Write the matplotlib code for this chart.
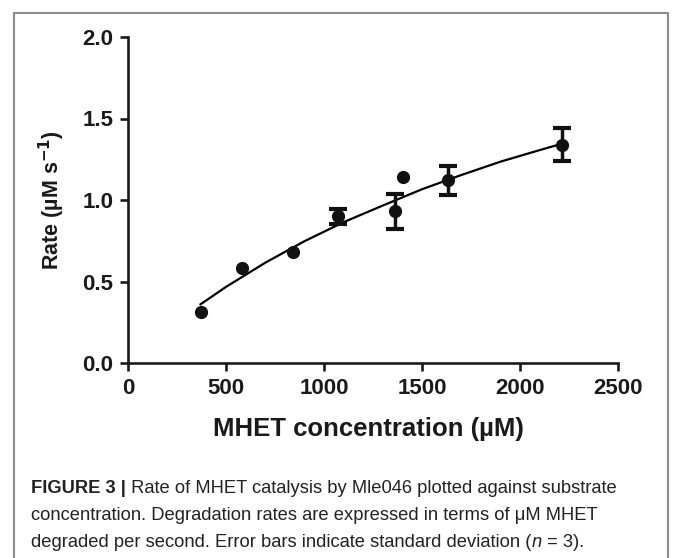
import matplotlib
matplotlib.use("Agg")
import matplotlib.pyplot as plt
import numpy as np
from matplotlib.lines import Line2D

conc = [371, 580, 843, 1073, 1362, 1401, 1631, 2213]
rate = [0.31, 0.58, 0.68, 0.90, 0.93, 1.14, 1.12, 1.34]
sd = [0, 0, 0, 0.045, 0.107, 0, 0.087, 0.10]

# fitted curve, points
fit_x = [370, 500, 700, 900, 1100, 1300, 1500, 1700, 1900, 2100, 2213]
fit_y = [0.36, 0.467, 0.615, 0.747, 0.864, 0.966, 1.066, 1.153, 1.235, 1.306, 1.345]

xticks = [0, 500, 1000, 1500, 2000, 2500]
yticks = [0.0, 0.5, 1.0, 1.5, 2.0]

plt.rcParams['font.family'] = ['Liberation Sans', 'DejaVu Sans']
cap_font = ['Liberation Sans', 'DejaVu Sans']

fig = plt.figure(figsize=(6.74, 5.58), dpi=100)
ax = fig.add_axes([128/674, 1-363/558, 490/674, 326/558])

ax.plot(fit_x, fit_y, 'k-', lw=1.6)

conc = np.array(conc)
rate = np.array(rate)
sd = np.array(sd)
has_err = sd > 0
ax.errorbar(conc[has_err], rate[has_err], yerr=sd[has_err], fmt='none',
            ecolor='#111111', elinewidth=2.5, capsize=6.5, capthick=3)
ax.plot(conc, rate, 'o', color='#111111', ms=8.5)

ax.set_xlim(0, 2500)
ax.set_ylim(0, 2.0)
ax.set_xticks(xticks)
ax.set_yticks(yticks)
ax.set_xticklabels([str(t) for t in xticks])
ax.set_yticklabels(['%.1f' % t for t in yticks])
for lab in ax.get_xticklabels() + ax.get_yticklabels():
    lab.set_fontweight('bold')
    lab.set_fontsize(16)
    lab.set_color('#1a1a1a')

ax.spines['top'].set_visible(False)
ax.spines['right'].set_visible(False)
for s in ['left', 'bottom']:
    ax.spines[s].set_linewidth(1.9)
    ax.spines[s].set_color('#1a1a1a')
ax.tick_params(direction='out', length=5.5, width=1.9, color='#1a1a1a', pad=5)

ax.set_xlabel('MHET concentration (µM)', fontsize=18.5, fontweight='bold', color='#1a1a1a')
ax.xaxis.set_label_coords(0.49, -0.165)
ax.set_ylabel('Rate (µM s$^{\\mathbf{-1}}$)', fontsize=15.5, fontweight='bold', color='#1a1a1a')
ax.yaxis.set_label_coords(-0.125, 0.5)

# open frame round the figure panel
gray = '#8c8c8c'
L, R, T = 14/674, 668/674, 1-13/558
fig.add_artist(Line2D([L, R], [T, T], color=gray, lw=1.5, transform=fig.transFigure))
fig.add_artist(Line2D([L, L], [0, T], color=gray, lw=1.5, transform=fig.transFigure))
fig.add_artist(Line2D([R, R], [0, T], color=gray, lw=1.5, transform=fig.transFigure))

# caption
cs = 13.2
cx = 31/674
t1 = fig.text(cx, 1-497/558, 'FIGURE 3 |', fontsize=cs, fontweight='bold', family=cap_font,
              color='#222222', va='bottom')
ax.annotate(' Rate of MHET catalysis by Mle046 plotted against substrate', xy=(1, 0),
            xycoords=t1, va='bottom', ha='left', fontsize=cs, family=cap_font, color='#222222')
fig.text(cx, 1-524/558, 'concentration. Degradation rates are expressed in terms of μM MHET',
         fontsize=cs, family=cap_font, color='#222222', va='bottom')
t3 = fig.text(cx, 1-551/558, 'degraded per second. Error bars indicate standard deviation (',
              fontsize=cs, family=cap_font, color='#222222', va='bottom')
t4 = ax.annotate('n', xy=(1, 0), xycoords=t3, va='bottom', ha='left', fontsize=cs,
                 family=cap_font, style='italic', color='#222222')
ax.annotate(' = 3).', xy=(1, 0), xycoords=t4, va='bottom', ha='left', fontsize=cs,
            family=cap_font, color='#222222')

fig.savefig('out.png', dpi=100)
